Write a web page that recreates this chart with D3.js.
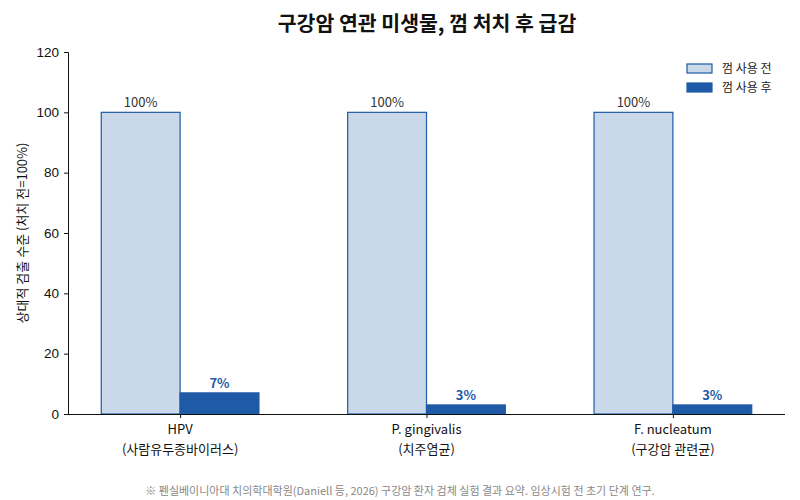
<!DOCTYPE html>
<html><head><meta charset="utf-8">
<script src="https://cdn.jsdelivr.net/npm/d3@7"></script>
<style>body{margin:0;background:#fff}svg{font-family:"Noto Sans CJK KR","Noto Sans",sans-serif}</style>
</head><body>
<svg id="c" width="800" height="500"></svg>
<script>
const categories = ["HPV", "P. gingivalis", "F. nucleatum"];
const subLabels = ["(사람유두종바이러스)", "(치주염균)", "(구강암 관련균)"];
const seriesNames = ["껌 사용 전", "껌 사용 후"];
const beforeValues = [100, 100, 100];
const afterValues = [7, 3, 3];
const yTicks = [0, 20, 40, 60, 80, 100, 120];
const title = "구강암 연관 미생물, 껌 처치 후 급감";
const yLabel = "상대적 검출 수준 (처치 전=100%)";
const footnote = "※ 펜실베이니아대 치의학대학원(Daniell 등, 2026) 구강암 환자 검체 실험 결과 요약. 임상시험 전 초기 단계 연구.";

const lightFill = "#c9d9e9", darkFill = "#1f5aa6", edge = "#1f5aa6";
const svg = d3.select("#c");
const m = {l:68, r:785, t:52, b:414};
const x = d3.scaleLinear().domain([-0.455, 2.455]).range([m.l, m.r]);
const y = d3.scaleLinear().domain([0, 120]).range([m.b, m.t]);
const w = 0.32;

svg.append("text").attr("x", 427).attr("y", 31).attr("text-anchor","middle")
  .attr("font-size", 20.5).attr("font-weight", "bold").attr("fill","#111").text(title);

// bars
const g = svg.append("g");
g.selectAll("rect.b").data(beforeValues).join("rect")
  .attr("x", (d,i)=>x(i - w)).attr("width", x(w)-x(0))
  .attr("y", d=>y(d)).attr("height", d=>y(0)-y(d))
  .attr("fill", lightFill).attr("stroke", edge).attr("stroke-width", 1.2);
g.selectAll("rect.a").data(afterValues).join("rect")
  .attr("x", (d,i)=>x(i)).attr("width", x(w)-x(0))
  .attr("y", d=>y(d)).attr("height", d=>y(0)-y(d))
  .attr("fill", darkFill).attr("stroke", edge).attr("stroke-width", 1.2);

g.selectAll("text.b").data(beforeValues).join("text")
  .attr("x", (d,i)=>x(i - w/2)).attr("y", d=>y(d)-5).attr("text-anchor","middle")
  .attr("font-size", 13).attr("fill","#333").text(d=>d+"%");
g.selectAll("text.a").data(afterValues).join("text")
  .attr("x", (d,i)=>x(i + w/2)).attr("y", d=>y(d)-5).attr("text-anchor","middle")
  .attr("font-size", 13).attr("font-weight","bold").attr("fill",darkFill).text(d=>d+"%");

// axes
const ya = svg.append("g").attr("transform",`translate(${m.l},0)`)
  .call(d3.axisLeft(y).tickValues(yTicks).tickSize(4).tickPadding(5));
ya.selectAll("text").attr("font-size", 13.5).attr("fill","#111").style("font-family","inherit");
ya.selectAll("line,path").attr("stroke","#111");

const xa = svg.append("g").attr("transform",`translate(0,${m.b})`)
  .call(d3.axisBottom(x).tickValues([0,1,2]).tickFormat("").tickSize(4).tickSizeOuter(0));
xa.selectAll("text").remove();
xa.selectAll("line,path").attr("stroke","#111");
xa.select("path").attr("d", `M${m.l},0.5H${m.r}`);

const xl = svg.append("g");
xl.selectAll("text.c").data(categories).join("text")
  .attr("x",(d,i)=>x(i)).attr("y", 434).attr("text-anchor","middle")
  .attr("font-size", 13).attr("fill","#111").text(d=>d);
xl.selectAll("text.s").data(subLabels).join("text")
  .attr("x",(d,i)=>x(i)).attr("y", 453.5).attr("text-anchor","middle")
  .attr("font-size", 13).attr("fill","#111").text(d=>d);

svg.append("text").attr("transform", `translate(27,${(m.t+m.b)/2}) rotate(-90)`)
  .attr("text-anchor","middle").attr("font-size", 13).attr("fill","#111").text(yLabel);

// legend
const lg = svg.append("g");
const lx = 687, ly = [64, 83];
[lightFill, darkFill].forEach((c,i)=>{
  lg.append("rect").attr("x",lx).attr("y",ly[i]).attr("width",25).attr("height",9)
    .attr("fill",c).attr("stroke",edge).attr("stroke-width",1.2);
  lg.append("text").attr("x",722).attr("y",ly[i]+9).attr("font-size",12).attr("fill","#222").text(seriesNames[i]);
});

svg.append("text").attr("x", 400).attr("y", 495).attr("text-anchor","middle")
  .attr("font-size", 11).attr("fill","#888").text(footnote);
</script>
</body></html>
